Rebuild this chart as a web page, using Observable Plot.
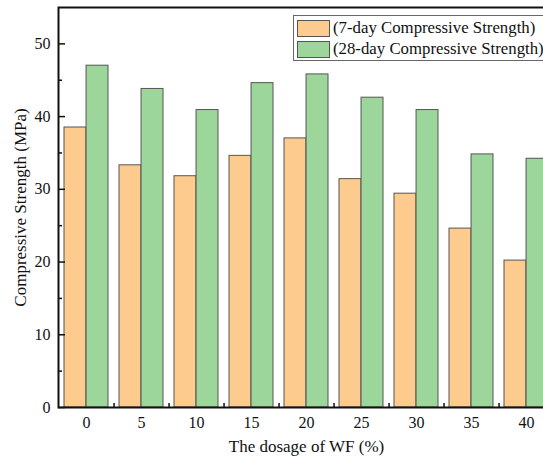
<!DOCTYPE html>
<html>
<head>
<meta charset="utf-8">
<script src="https://cdn.jsdelivr.net/npm/d3@7"></script>
<script src="https://cdn.jsdelivr.net/npm/@observablehq/plot@0.6"></script>
<style>
  html, body { margin: 0; padding: 0; background: #fff; overflow: hidden; width: 543px; height: 457px; }
  #wrap { position: relative; width: 543px; height: 457px; overflow: hidden; font-family: "Liberation Serif", "Times New Roman", serif; }
  #wrap svg { max-width: none !important; display: block; }
  #wrap svg text { font-family: "Liberation Serif", "Times New Roman", serif; }
  #wrap svg g[aria-label="y-axis label"] text, #wrap svg g[aria-label="x-axis label"] text { font-size: 17px; }
  #legend { position: absolute; left: 293px; top: 15px; width: 270px; height: 46px; border: 1px solid #666; background: #fff; box-sizing: border-box; }
  .row { position: absolute; left: 3px; display: flex; align-items: center; font-size: 16.8px; color: #111; white-space: nowrap; }
  .sw { width: 31px; height: 15px; border: 1px solid #555; margin-right: 3px; }
</style>
</head>
<body>
<div id="wrap"></div>
<script>
const dosages = [0, 5, 10, 15, 20, 25, 30, 35, 40];
const strength7 = [38.5, 33.3, 31.8, 34.6, 37.0, 31.4, 29.4, 24.6, 20.2];
const strength28 = [47.0, 43.8, 40.9, 44.6, 45.8, 42.6, 40.9, 34.8, 34.2];
const seriesNames = ["(7-day Compressive Strength)", "(28-day Compressive Strength)"];
const colors = ["#FECB8F", "#9CD69B"];
const yTicks = [0, 10, 20, 30, 40, 50];
const yMinorTicks = [5, 15, 25, 35, 45];

const data = dosages.map((d, i) => ({dosage: String(d), s7: strength7[i], s28: strength28[i]}));

const W = 560, H = 457, mL = 58, mR = 6, mT = 7, mB = 50;
const step = (W - mL - mR) / dosages.length;
const band = step * 0.8;

const chart = Plot.plot({
  width: W,
  height: H,
  marginLeft: mL,
  marginRight: mR,
  marginTop: mT,
  marginBottom: mB,
  style: {fontFamily: "'Liberation Serif', 'Times New Roman', serif", fontSize: "16px", color: "#111", background: "#fff", maxWidth: "none"},
  x: {type: "band", domain: dosages.map(String), paddingInner: 0.2, paddingOuter: 0.1, align: 0.5},
  y: {domain: [0, 55]},
  marks: [
    Plot.barY(data, {x: "dosage", y: "s7", fill: colors[0], stroke: "#555", strokeWidth: 1, insetRight: band / 2}),
    Plot.barY(data, {x: "dosage", y: "s28", fill: colors[1], stroke: "#555", strokeWidth: 1, insetLeft: band / 2}),
    Plot.axisY({ticks: yTicks, tickSize: -7, strokeWidth: 1.5, text: null, label: null}),
    Plot.axisY({ticks: yMinorTicks, tickSize: -4, strokeWidth: 1.5, text: null, label: null}),
    Plot.axisY({ticks: yTicks, tickSize: 0, tickPadding: 8, fontSize: 16, label: "Compressive Strength (MPa)", labelAnchor: "center", labelArrow: "none", labelOffset: 45}),
    Plot.axisX({ticks: dosages.map(String), tickSize: -4, strokeWidth: 1.5, dx: step / 2, text: null, label: null}),
    Plot.axisX({tickSize: 0, tickPadding: 9, fontSize: 16, label: "The dosage of WF (%)", labelAnchor: "center", labelArrow: "none", labelOffset: 44}),
    Plot.frame({stroke: "#111", strokeWidth: 2})
  ]
});

const wrap = document.getElementById("wrap");
wrap.appendChild(chart);

const legend = document.createElement("div");
legend.id = "legend";
seriesNames.forEach((name, i) => {
  const row = document.createElement("div");
  row.className = "row";
  row.style.top = (2 + i * 21) + "px";
  const sw = document.createElement("div");
  sw.className = "sw";
  sw.style.background = colors[i];
  const t = document.createElement("span");
  t.textContent = name;
  row.appendChild(sw);
  row.appendChild(t);
  legend.appendChild(row);
});
wrap.appendChild(legend);
</script>
</body>
</html>
